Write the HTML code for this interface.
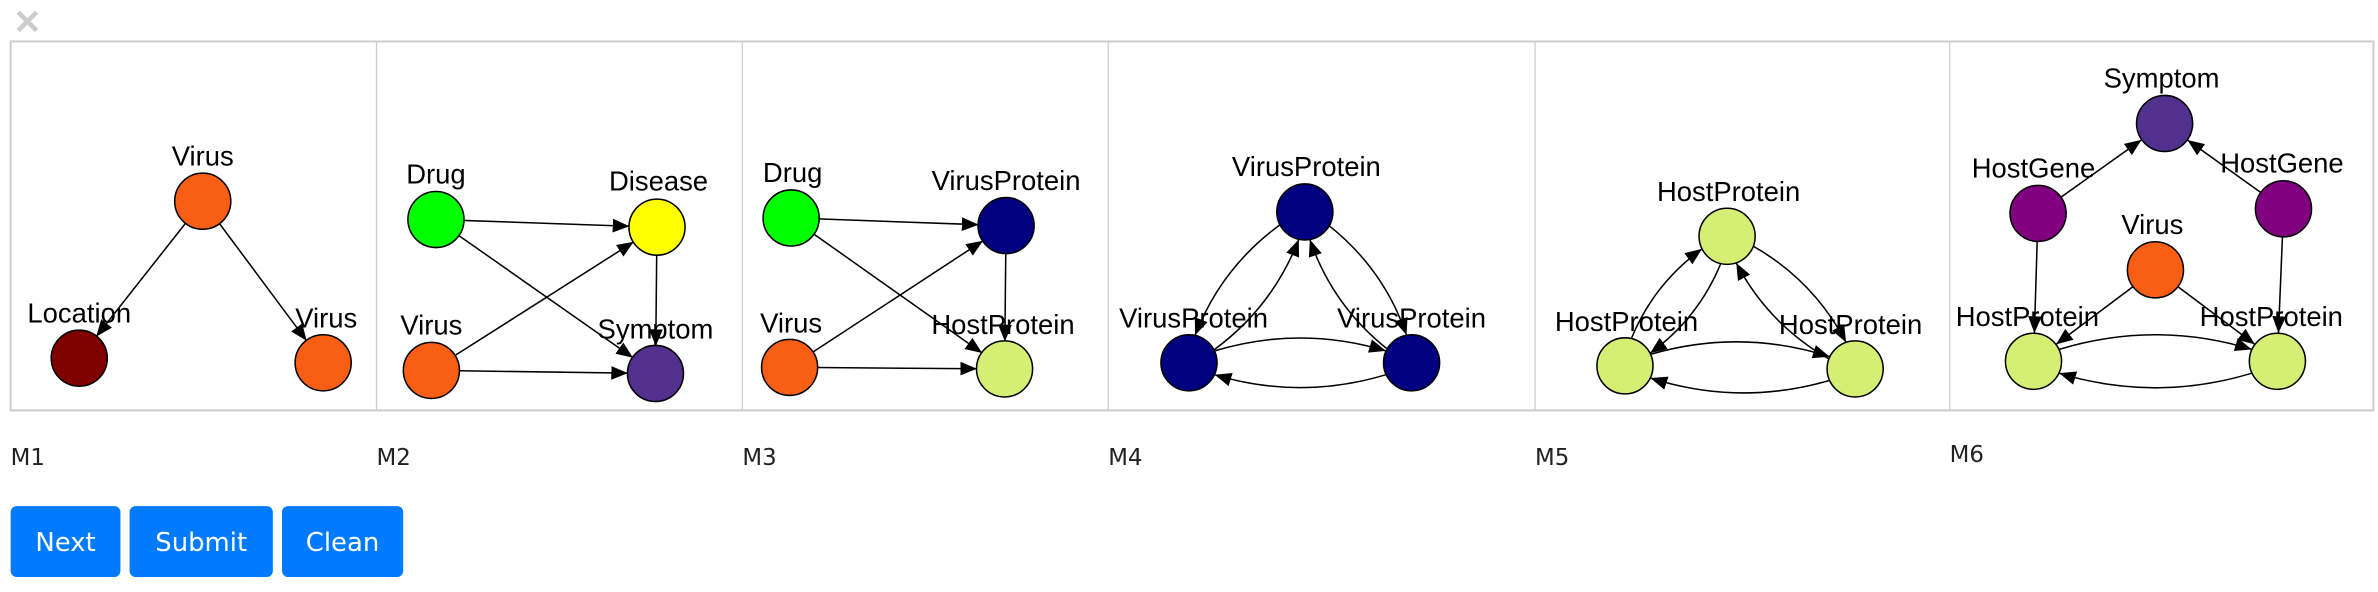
<!DOCTYPE html>
<html><head><meta charset="utf-8"><style>
html,body{margin:0;padding:0;background:#fff;width:2378px;height:592px;overflow:hidden}
svg{display:block}
.n{stroke:#000;stroke-width:1}
.e{stroke:#000;stroke-width:1;fill:none;marker-end:url(#a)}
.l{font-family:"Liberation Sans",Arial,sans-serif;font-size:18px;fill:#000;text-anchor:middle}
.m{font-family:"DejaVu Sans","Liberation Sans",sans-serif;font-size:15px;fill:#222}
.b{font-family:"DejaVu Sans","Liberation Sans",sans-serif;font-size:17px;fill:#fff;text-anchor:middle}
</style></head><body>
<svg width="2378" height="592" viewBox="0 0 1560 388.35" xmlns="http://www.w3.org/2000/svg">
<defs><marker id="a" markerUnits="userSpaceOnUse" markerWidth="11" markerHeight="9" refX="11" refY="4.5" orient="auto"><path d="M0,0 L11,4.5 L0,9 z" fill="#000"/></marker></defs>
<path d="M12,8 L24,20 M24,8 L12,20" stroke="#ccc" stroke-width="3"/>
<rect x="7" y="27.2" width="1550" height="242" fill="none" stroke="#ccc" stroke-width="1.3"/>
<g stroke="#ccc" stroke-width="0.8"><line x1="247" y1="27" x2="247" y2="269"/><line x1="487" y1="27" x2="487" y2="269"/><line x1="727" y1="27" x2="727" y2="269"/><line x1="1007" y1="27" x2="1007" y2="269"/><line x1="1279" y1="27" x2="1279" y2="269"/></g>
<!-- M1 -->
<path class="e" d="M121.9,146.2 L63.1,220.8"/><path class="e" d="M143.8,146.4 L201.2,223.6"/>
<circle class="n" cx="133" cy="132" r="18.4" fill="#f95f14"/><circle class="n" cx="52" cy="235" r="18.4" fill="#800000"/><circle class="n" cx="212" cy="238" r="18.4" fill="#f95f14"/>
<text class="l" x="133" y="108.5">Virus</text><text class="l" x="52" y="211.5">Location</text><text class="l" x="214" y="215">Virus</text>
<!-- M2 -->
<path class="e" d="M304,144.6 L413,148.4"/><path class="e" d="M300.7,154.3 L415.3,234.7"/><path class="e" d="M298.2,233.4 L415.8,158.6"/><path class="e" d="M301,243.2 L412,244.8"/><path class="e" d="M430.8,167 L430.2,227"/>
<circle class="n" cx="286" cy="144" r="18.4" fill="#00ff00"/><circle class="n" cx="431" cy="149" r="18.4" fill="#ffff00"/><circle class="n" cx="283" cy="243" r="18.4" fill="#f95f14"/><circle class="n" cx="430" cy="245" r="18.4" fill="#52308e"/>
<text class="l" x="286" y="120.5">Drug</text><text class="l" x="432" y="125">Disease</text><text class="l" x="283" y="219.5">Virus</text><text class="l" x="430" y="222">Symptom</text>
<!-- M3 -->
<path class="e" d="M537,143.6 L642,147.4"/><path class="e" d="M533.7,153.4 L644.3,231.6"/><path class="e" d="M533.1,231.1 L644.9,157.9"/><path class="e" d="M536,241.1 L641,241.9"/><path class="e" d="M659.8,166 L659.2,224"/>
<circle class="n" cx="519" cy="143" r="18.4" fill="#00ff00"/><circle class="n" cx="660" cy="148" r="18.4" fill="#000080"/><circle class="n" cx="518" cy="241" r="18.4" fill="#f95f14"/><circle class="n" cx="659" cy="242" r="18.4" fill="#d4ef74"/>
<text class="l" x="520" y="119.5">Drug</text><text class="l" x="660" y="124.5">VirusProtein</text><text class="l" x="519" y="218">Virus</text><text class="l" x="658" y="219">HostProtein</text>
<!-- M4 -->
<path class="e" d="M796.8,230.2 Q853,213.2 909.2,230.2"/><path class="e" d="M909.2,245.8 Q853,262.8 796.8,245.8"/>
<path class="e" d="M839.6,147.5 Q801.2,175.6 784,219.9"/><path class="e" d="M796.4,229.5 Q834.8,201.4 852,157.1"/>
<path class="e" d="M872.1,148.2 Q907.8,176.6 922.7,219.8"/><path class="e" d="M909.9,228.8 Q874.2,200.4 859.3,157.2"/>
<circle class="n" cx="856" cy="139" r="18.4" fill="#000080"/><circle class="n" cx="780" cy="238" r="18.4" fill="#000080"/><circle class="n" cx="926" cy="238" r="18.4" fill="#000080"/>
<text class="l" x="857" y="115.5">VirusProtein</text><text class="l" x="783" y="215">VirusProtein</text><text class="l" x="926" y="215">VirusProtein</text>
<!-- M5 -->
<path class="e" d="M1128.8,173 Q1114,208.9 1082.5,231.7"/><path class="e" d="M1070.2,222 Q1085,186.1 1116.5,163.3"/>
<path class="e" d="M1150.3,161.6 Q1189.8,184.2 1211,224.5"/><path class="e" d="M1199.7,235.4 Q1160.2,212.8 1139,172.5"/>
<path class="e" d="M1082.9,232.4 Q1141.8,215.3 1200.3,234"/><path class="e" d="M1200.1,249.6 Q1141.2,266.7 1082.7,248"/>
<circle class="n" cx="1133" cy="155" r="18.4" fill="#d4ef74"/><circle class="n" cx="1066" cy="240" r="18.4" fill="#d4ef74"/><circle class="n" cx="1217" cy="242" r="18.4" fill="#d4ef74"/>
<text class="l" x="1134" y="132">HostProtein</text><text class="l" x="1067" y="217">HostProtein</text><text class="l" x="1214" y="219">HostProtein</text>
<!-- M6 -->
<path class="e" d="M1352.1,129.3 L1404.9,91.7"/><path class="e" d="M1483,126.2 L1435,91.8"/><path class="e" d="M1336.4,158.5 L1334.6,218.5"/><path class="e" d="M1497.3,155.5 L1494.7,218.5"/><path class="e" d="M1399.2,188.1 L1348.8,225.9"/><path class="e" d="M1428.8,188.1 L1479.2,225.9"/>
<path class="e" d="M1350.8,229.2 Q1414,210 1477.2,229.2"/><path class="e" d="M1477.2,244.8 Q1414,264 1350.8,244.8"/>
<circle class="n" cx="1420" cy="81" r="18.4" fill="#52308e"/><circle class="n" cx="1337" cy="140" r="18.4" fill="#800080"/><circle class="n" cx="1498" cy="137" r="18.4" fill="#800080"/><circle class="n" cx="1414" cy="177" r="18.4" fill="#f95f14"/><circle class="n" cx="1334" cy="237" r="18.4" fill="#d4ef74"/><circle class="n" cx="1494" cy="237" r="18.4" fill="#d4ef74"/>
<text class="l" x="1418" y="57.5">Symptom</text><text class="l" x="1334" y="116.5">HostGene</text><text class="l" x="1497" y="113">HostGene</text><text class="l" x="1412" y="153.5">Virus</text><text class="l" x="1330" y="214">HostProtein</text><text class="l" x="1490" y="214">HostProtein</text>
<!-- labels -->
<text class="m" x="7" y="305">M1</text><text class="m" x="247" y="305">M2</text><text class="m" x="487" y="305">M3</text><text class="m" x="727" y="305">M4</text><text class="m" x="1007" y="305">M5</text><text class="m" x="1279" y="303">M6</text>
<!-- buttons -->
<rect x="7" y="332" width="72" height="46.5" rx="4" fill="#007bff"/><rect x="85" y="332" width="94" height="46.5" rx="4" fill="#007bff"/><rect x="185" y="332" width="79.5" height="46.5" rx="4" fill="#007bff"/>
<text class="b" x="43" y="361.5">Next</text><text class="b" x="132" y="361.5">Submit</text><text class="b" x="224.7" y="361.5">Clean</text>
</svg>
</body></html>
